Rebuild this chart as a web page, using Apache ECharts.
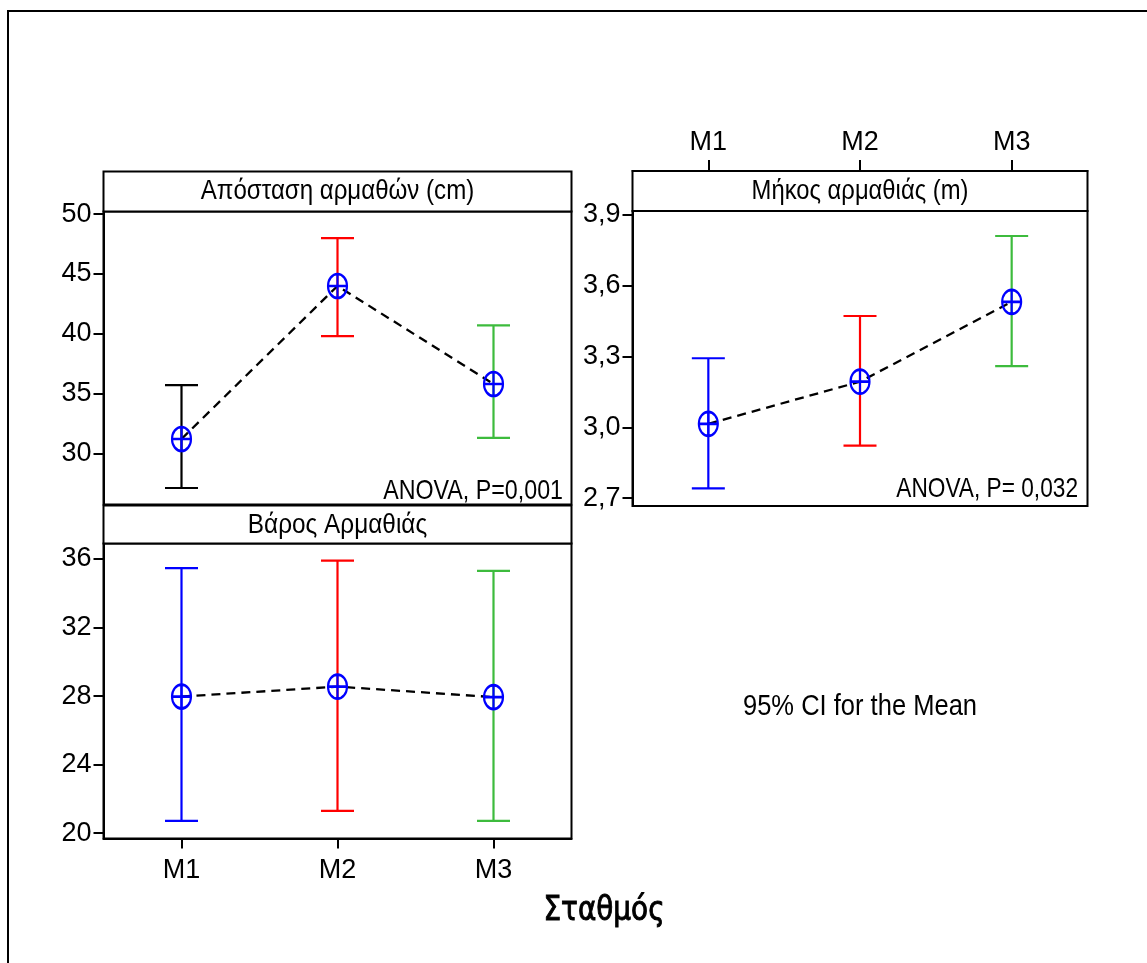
<!DOCTYPE html>
<html>
<head>
<meta charset="utf-8">
<script src="https://cdn.jsdelivr.net/npm/echarts@6/dist/echarts.min.js"></script>
<style>
  html, body { margin: 0; padding: 0; background: #fff; }
  #chart { width: 1147px; height: 963px; }
</style>
</head>
<body>
<div id="chart"></div>
<script>
// Stations (x categories)
const stations = ['M1', 'M2', 'M3'];

// Απόσταση αρμαθών (cm): mean and 95% CI
const distMean = [31.2, 44.0, 35.8];
const distLow  = [27.1, 39.8, 31.3];
const distHigh = [35.7, 48.0, 40.7];

// Μήκος αρμαθιάς (m): mean and 95% CI
const lenMean = [3.015, 3.194, 3.532];
const lenLow  = [2.742, 2.923, 3.260];
const lenHigh = [3.293, 3.472, 3.811];

// Βάρος Αρμαθιάς: mean and 95% CI
const wtMean = [27.97, 28.55, 27.94];
const wtLow  = [20.72, 21.30, 20.72];
const wtHigh = [35.46, 35.90, 35.30];

// Tick labels on each value axis
const distTicks = [30, 35, 40, 45, 50];
const lenTicks  = [2.7, 3.0, 3.3, 3.6, 3.9];
const wtTicks   = [20, 24, 28, 32, 36];

const FONT = '"Liberation Sans", Arial, sans-serif';
const BAR_COLORS_A = ['#000000', '#ff0000', '#3dbb3d'];
const BAR_COLORS_B = ['#0000ff', '#ff0000', '#3dbb3d'];

// Ellipse with a cross, used as the mean marker
const MEAN_SYMBOL = 'path://M0,-12 A9.5,12 0 1,1 0,12 A9.5,12 0 1,1 0,-12 Z M0,-12 L0,12 M-9.5,0 L9.5,0';

const chart = echarts.init(document.getElementById('chart'), null, { renderer: 'canvas' });

function ciData(low, high) {
  return stations.map((s, i) => [i, low[i], high[i]]);
}

function errorBars(idx, low, high, colors) {
  return {
    type: 'custom',
    xAxisIndex: idx,
    yAxisIndex: idx,
    encode: { x: 0, y: [1, 2] },
    data: ciData(low, high),
    z: 2,
    renderItem: function (params, api) {
      const i = api.value(0);
      const lo = api.coord([i, api.value(1)]);
      const hi = api.coord([i, api.value(2)]);
      const hw = 16.5;
      const st = { stroke: colors[i], lineWidth: 2.2 };
      return {
        type: 'group',
        children: [
          { type: 'line', shape: { x1: hi[0], y1: hi[1], x2: lo[0], y2: lo[1] }, style: st },
          { type: 'line', shape: { x1: hi[0] - hw, y1: hi[1], x2: hi[0] + hw, y2: hi[1] }, style: st },
          { type: 'line', shape: { x1: lo[0] - hw, y1: lo[1], x2: lo[0] + hw, y2: lo[1] }, style: st }
        ]
      };
    }
  };
}

function meanLine(idx, mean) {
  return {
    type: 'line',
    xAxisIndex: idx,
    yAxisIndex: idx,
    data: mean,
    z: 3,
    symbol: MEAN_SYMBOL,
    symbolSize: [19, 24],
    symbolKeepAspect: false,
    itemStyle: { color: 'rgba(0,0,0,0)', borderColor: '#0000ff', borderWidth: 2.4 },
    lineStyle: { color: '#000', width: 2.3, type: [9, 6] },
    emphasis: { disabled: true },
    silent: true,
    animation: false
  };
}

function valueAxis(idx, min, max, ticks, fmt) {
  return {
    gridIndex: idx,
    type: 'value',
    min: min,
    max: max,
    axisLine: { show: true, lineStyle: { color: '#000', width: 2 } },
    axisTick: { show: true, length: 10, lineStyle: { color: '#000', width: 2 }, customValues: ticks },
    axisLabel: {
      show: true, margin: 12, color: '#000', fontFamily: FONT, fontSize: 27,
      customValues: ticks, formatter: fmt
    },
    splitLine: { show: false }
  };
}

const gridBase = { show: true, borderColor: '#000', borderWidth: 2, backgroundColor: 'rgba(0,0,0,0)', containLabel: false };

function noteText(x, y, text, size, scale, align) {
  return {
    type: 'text', x: x, y: y, scaleX: scale, z: 10,
    style: {
      text: text, font: size + 'px ' + FONT, fill: '#000',
      align: align, verticalAlign: 'middle',
      textAlign: align, textVerticalAlign: 'middle'
    }
  };
}

const option = {
  backgroundColor: '#fff',
  animation: false,
  grid: [
    Object.assign({ left: 103.5, top: 211.5, width: 468, height: 293 }, gridBase),
    Object.assign({ left: 632.5, top: 211, width: 455, height: 295 }, gridBase),
    Object.assign({ left: 103.5, top: 543.5, width: 468, height: 295 }, gridBase)
  ],
  xAxis: [
    {
      gridIndex: 0, type: 'category', data: stations,
      axisLine: { show: false }, axisTick: { show: false }, axisLabel: { show: false }
    },
    {
      gridIndex: 1, type: 'category', data: stations, position: 'top', offset: 40,
      axisLine: { show: true, lineStyle: { color: '#000', width: 2 } },
      axisTick: { show: true, alignWithLabel: true, length: 11, lineStyle: { color: '#000', width: 2 } },
      axisLabel: { show: true, margin: 15, color: '#000', fontFamily: FONT, fontSize: 27 }
    },
    {
      gridIndex: 2, type: 'category', data: stations, position: 'bottom',
      axisLine: { show: true, lineStyle: { color: '#000', width: 2 } },
      axisTick: { show: true, alignWithLabel: true, length: 10, lineStyle: { color: '#000', width: 2 } },
      axisLabel: { show: true, margin: 19, color: '#000', fontFamily: FONT, fontSize: 27 }
    }
  ],
  yAxis: [
    valueAxis(0, 25.72, 50.23, distTicks, v => String(v)),
    valueAxis(1, 2.667, 3.917, lenTicks, v => v.toFixed(1).replace('.', ',')),
    valueAxis(2, 19.69, 36.90, wtTicks, v => String(v))
  ],
  series: [
    errorBars(0, distLow, distHigh, BAR_COLORS_A),
    meanLine(0, distMean),
    errorBars(1, lenLow, lenHigh, BAR_COLORS_B),
    meanLine(1, lenMean),
    errorBars(2, wtLow, wtHigh, BAR_COLORS_B),
    meanLine(2, wtMean)
  ],
  graphic: [
    // outer frame
    { type: 'rect', shape: { x: 8, y: 11, width: 1200, height: 1000 }, style: { fill: 'none', stroke: '#000', lineWidth: 2 }, z: 0 },
    // panel strips
    { type: 'rect', shape: { x: 103.5, y: 171.5, width: 468, height: 40 }, style: { fill: '#fff', stroke: '#000', lineWidth: 2 }, z: 5 },
    { type: 'rect', shape: { x: 632.5, y: 171, width: 455, height: 40 }, style: { fill: '#fff', stroke: '#000', lineWidth: 2 }, z: 5 },
    { type: 'rect', shape: { x: 103.5, y: 505.5, width: 468, height: 38 }, style: { fill: '#fff', stroke: '#000', lineWidth: 2 }, z: 5 },
    noteText(337.5, 191, 'Απόσταση αρμαθών (cm)', 28, 0.86, 'center'),
    noteText(860, 191, 'Μήκος αρμαθιάς (m)', 28, 0.85, 'center'),
    noteText(337.5, 525, 'Βάρος Αρμαθιάς', 28, 0.87, 'center'),
    // ANOVA notes
    noteText(563, 491.5, 'ANOVA, P=0,001', 28, 0.83, 'right'),
    noteText(1078, 489.5, 'ANOVA, P= 0,032', 28, 0.81, 'right'),
    noteText(860, 707, '95% CI for the Mean', 29, 0.88, 'center'),
    {
      type: 'text', x: 604, y: 911, scaleX: 0.82, z: 10,
      style: { text: 'Σταθμός', font: '34px "DejaVu Sans", sans-serif', fill: '#000', stroke: '#000', lineWidth: 1, align: 'center', verticalAlign: 'middle', textAlign: 'center', textVerticalAlign: 'middle' }
    }
  ]
};

chart.setOption(option);
</script>
</body>
</html>
